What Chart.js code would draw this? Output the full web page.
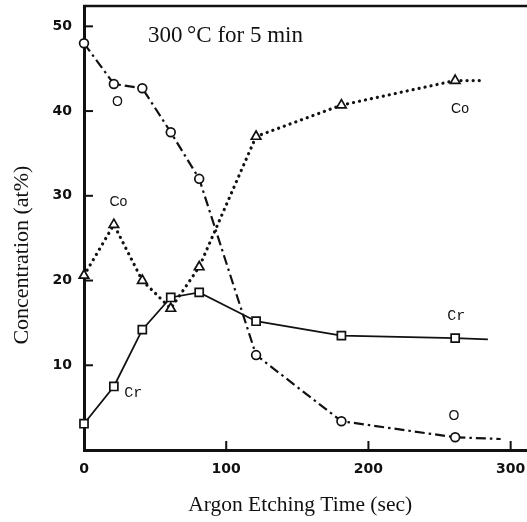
<!DOCTYPE html>
<html>
<head>
<meta charset="utf-8">
<script src="https://cdn.jsdelivr.net/npm/chart.js@4/dist/chart.umd.min.js"></script>
<style>
  html, body { margin: 0; padding: 0; background: #fff; }
  #wrap { width: 527px; height: 522px; }
</style>
</head>
<body>
<div id="wrap"><canvas id="chart"></canvas></div>
<script>
// ---------- data ----------
const timeSec = [0, 21, 41, 61, 81, 121, 181, 261];
const oxygen = [48.0, 43.2, 42.7, 37.5, 32.0, 11.2, 3.4, 1.5];
const cobalt = [20.6, 26.6, 20.0, 16.7, 21.6, 37.0, 40.7, 43.6];
const chromium = [3.1, 7.5, 14.2, 18.0, 18.6, 15.2, 13.5, 13.2];
// line continues past the last marker
const oxygenEnd = [293, 1.3];
const cobaltEnd = [280, 43.6];
const chromiumEnd = [284, 13.05];

const xTicks = [0, 100, 200, 300];
const yTicks = [10, 20, 30, 40, 50];

// curve labels drawn inside the plot
const labelText = ["O", "Co", "Cr", "Cr", "O", "Co"];
const labelX = [23.5, 24.2, 34.7, 261.7, 260.2, 264.4];
const labelY = [41.0, 29.2, 6.7, 15.8, 4.0, 40.2];
const titleText = "300\u2009\u00B0C for 5 min";
const xTitle = "Argon Etching Time (sec)";
const yTitle = "Concentration (at%)";

const ink = "#111";

function toPoints(ys, end) {
    const pts = timeSec.map((t, i) => ({ x: t, y: ys[i] }));
    pts.push({ x: end[0], y: end[1] });
    return pts;
}
function radii(r) {
    const arr = timeSec.map(() => r);
    arr.push(0);
    return arr;
}
function noPad(s) {
    s.paddingTop = 0;
    s.paddingBottom = 0;
    s.paddingLeft = 0;
    s.paddingRight = 0;
}

// ---------- extra drawing: top frame, inward ticks, texts ----------
const decor = {
    id: "decor",
    afterDraw(chart) {
        const c = chart.ctx;
        const a = chart.chartArea;
        const xs = chart.scales.x, ys = chart.scales.y;
        c.save();
        c.strokeStyle = ink;
        c.lineWidth = 2.5;
        c.beginPath();
        c.moveTo(a.left - 1, a.top);
        c.lineTo(chart.width, a.top);
        c.stroke();

        c.lineWidth = 2;
        yTicks.forEach(v => {
            const py = ys.getPixelForValue(v);
            c.beginPath();
            c.moveTo(a.left, py);
            c.lineTo(a.left + 9, py);
            c.stroke();
        });
        xTicks.slice(1).forEach(v => {
            const px = xs.getPixelForValue(v);
            c.beginPath();
            c.moveTo(px, a.bottom);
            c.lineTo(px, a.bottom - 9);
            c.stroke();
        });

        c.fillStyle = ink;
        c.textAlign = "center";
        c.textBaseline = "middle";
        labelText.forEach((t, i) => {
            c.font = t === "Cr" ? "15px 'Liberation Mono'" : "14px 'Liberation Sans'";
            c.fillText(t, xs.getPixelForValue(labelX[i]), ys.getPixelForValue(labelY[i]));
        });

        // axis titles
        c.font = "21.5px 'Liberation Serif'";
        c.fillText(xTitle, xs.getPixelForValue(152), a.bottom + 55);
        c.save();
        c.translate(22, ys.getPixelForValue(23));
        c.rotate(-Math.PI / 2);
        c.font = "22px 'Liberation Serif'";
        c.fillText(yTitle, 0, 0);
        c.restore();

        c.font = "23px 'Liberation Serif'";
        c.textAlign = "left";
        c.textBaseline = "alphabetic";
        c.fillText(titleText, xs.getPixelForValue(45), ys.getPixelForValue(48.1));
        c.restore();
    }
};

new Chart(document.getElementById("chart"), {
    type: "line",
    data: {
        datasets: [
            {
                label: "O",
                data: toPoints(oxygen, oxygenEnd),
                borderColor: ink,
                borderWidth: 2.2,
                borderDash: [10, 4, 2.5, 4],
                pointStyle: "circle",
                pointRadius: radii(4.4),
                pointBackgroundColor: "#fff",
                pointBorderColor: ink,
                pointBorderWidth: 1.7,
                clip: false
            },
            {
                label: "Co",
                data: toPoints(cobalt, cobaltEnd),
                borderColor: ink,
                borderWidth: 3.2,
                borderDash: [0.1, 6],
                borderCapStyle: "round",
                pointStyle: "triangle",
                pointRadius: radii(5.5),
                pointBackgroundColor: "#fff",
                pointBorderColor: ink,
                pointBorderWidth: 1.7,
                clip: false
            },
            {
                label: "Cr",
                data: toPoints(chromium, chromiumEnd),
                borderColor: ink,
                borderWidth: 1.8,
                pointStyle: "rect",
                pointRadius: radii(5.7),
                pointBackgroundColor: "#fff",
                pointBorderColor: ink,
                pointBorderWidth: 1.7,
                clip: false
            }
        ]
    },
    options: {
        responsive: true,
        maintainAspectRatio: false,
        animation: false,
        layout: { autoPadding: false, padding: { top: 6, right: 0, left: 0, bottom: 0 } },
        plugins: {
            legend: { display: false },
            tooltip: { enabled: false }
        },
        scales: {
            x: {
                type: "linear",
                min: 0,
                max: 311.5,
                afterBuildTicks: s => { s.ticks = xTicks.map(v => ({ value: v })); },
                afterFit: s => { s.height = 72; noPad(s); },
                grid: { drawOnChartArea: false, drawTicks: false },
                border: { color: ink, width: 3 },
                ticks: {
                    color: ink,
                    padding: 11,
                    maxRotation: 0,
                    font: { family: "'DejaVu Sans'", size: 14, weight: "bold" }
                }
            },
            y: {
                min: 0,
                max: 52.4,
                afterBuildTicks: s => { s.ticks = yTicks.map(v => ({ value: v })); },
                afterFit: s => { s.width = 84; noPad(s); },
                grid: { drawOnChartArea: false, drawTicks: false },
                border: { color: ink, width: 3 },
                ticks: {
                    color: ink,
                    padding: 12,
                    font: { family: "'DejaVu Sans'", size: 14, weight: "bold" }
                }
            }
        }
    },
    plugins: [decor]
});
</script>
</body>
</html>
